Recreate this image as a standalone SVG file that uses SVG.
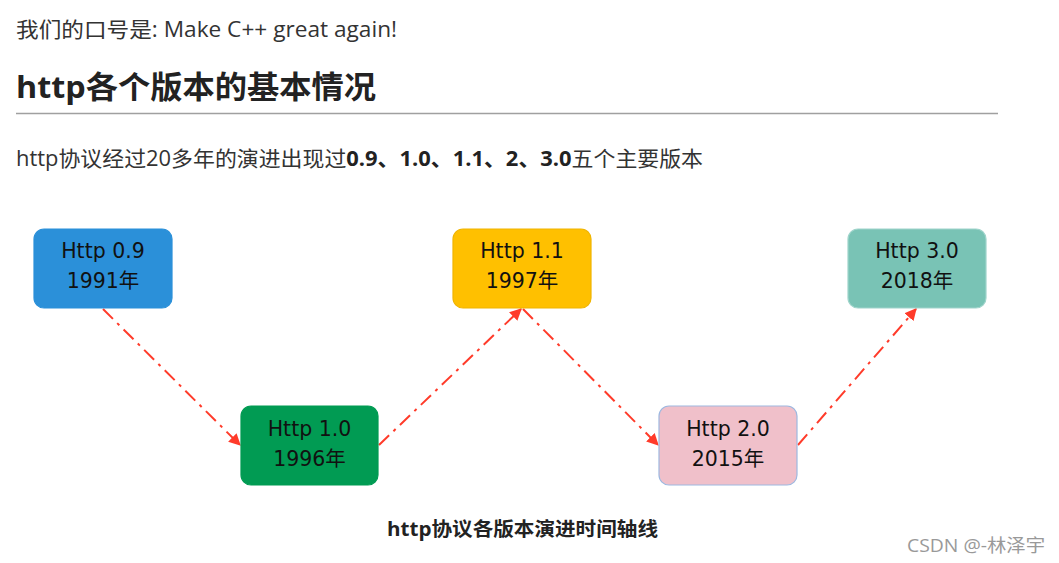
<svg xmlns="http://www.w3.org/2000/svg" width="1059" height="563" viewBox="0 0 1059 563">
<defs>
<style>
.doc{font-family:"Open Sans","Noto Sans CJK SC",sans-serif;}
.box{stroke-width:1.2;}
.lbl{font-family:"DejaVu Sans","Noto Sans CJK SC",sans-serif;font-size:20.5px;fill:#111;text-anchor:middle;}
.conn{stroke:#ff3b2a;stroke-width:2;fill:none;stroke-dasharray:14 6 3 6;marker-end:url(#ah);}
</style>
<marker id="ah" viewBox="0 0 10 10" refX="9" refY="5" markerWidth="6" markerHeight="6" orient="auto" markerUnits="strokeWidth">
<path d="M0,0 L10,5 L0,10 z" fill="#ff3b2a"/>
</marker>
</defs>
<rect width="1059" height="563" fill="#ffffff"/>
<text class="doc" x="16" y="37" font-size="21" fill="#333" textLength="381" lengthAdjust="spacingAndGlyphs">我们的口号是: Make C++ great again!</text>
<text class="doc" x="16" y="98" font-size="31" font-weight="bold" fill="#222" textLength="360" lengthAdjust="spacingAndGlyphs">http各个版本的基本情况</text>
<line x1="16" y1="113.5" x2="998" y2="113.5" stroke="#a0a0a0" stroke-width="1.5"/>
<text class="doc" x="16" y="166" font-size="21" fill="#333" textLength="687" lengthAdjust="spacingAndGlyphs">http协议经过20多年的演进出现过<tspan font-weight="bold" fill="#222">0.9、1.0、1.1、2、3.0</tspan>五个主要版本</text>
<g id="connectors">
<line class="conn" x1="103" y1="309" x2="240" y2="445"/>
<line class="conn" x1="379" y1="445" x2="521" y2="309"/>
<line class="conn" x1="523" y1="309" x2="658" y2="445"/>
<line class="conn" x1="798" y1="445" x2="916" y2="309"/>
</g>
<g id="n09">
<rect class="box" x="34" y="229" width="138" height="79" rx="10" fill="#2b90d9" stroke="#2b90d9"/>
<text class="lbl" x="103" y="258">Http 0.9</text>
<text class="lbl" x="103" y="288">1991年</text>
</g>
<g id="n10">
<rect class="box" x="241" y="406" width="137" height="79" rx="10" fill="#019b53" stroke="#019b53"/>
<text class="lbl" x="309.5" y="436">Http 1.0</text>
<text class="lbl" x="309.5" y="466">1996年</text>
</g>
<g id="n11">
<rect class="box" x="453" y="229" width="138" height="79" rx="10" fill="#ffc000" stroke="#f0b400"/>
<text class="lbl" x="522" y="258">Http 1.1</text>
<text class="lbl" x="522" y="288">1997年</text>
</g>
<g id="n20">
<rect class="box" x="659" y="406" width="138" height="79" rx="10" fill="#f0c0ca" stroke="#9db8e0"/>
<text class="lbl" x="728" y="436">Http 2.0</text>
<text class="lbl" x="728" y="466">2015年</text>
</g>
<g id="n30">
<rect class="box" x="848" y="229" width="138" height="79" rx="10" fill="#79c3b5" stroke="#9fd4cb"/>
<text class="lbl" x="917" y="258">Http 3.0</text>
<text class="lbl" x="917" y="288">2018年</text>
</g>
<text class="doc" x="387" y="536" font-size="19" font-weight="bold" fill="#222" textLength="271" lengthAdjust="spacingAndGlyphs">http协议各版本演进时间轴线</text>
<text class="doc" x="907" y="552" font-size="18" fill="#999" textLength="138" lengthAdjust="spacingAndGlyphs">CSDN @-林泽宇</text>
</svg>
